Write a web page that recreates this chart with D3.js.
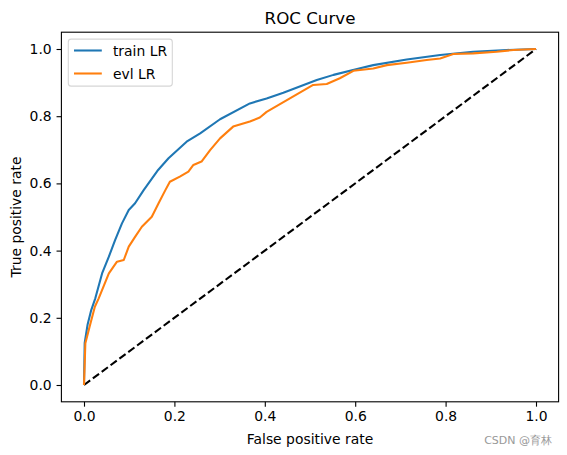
<!DOCTYPE html>
<html><head><meta charset="utf-8">
<script src="https://cdn.jsdelivr.net/npm/d3@7"></script>
<style>body{margin:0;background:#fff}svg{display:block}text{font-family:"DejaVu Sans",sans-serif}</style>
</head><body><svg id="c" width="567" height="455"></svg>
<script>
const fprTrain=[0,0.0015,0.008,0.016,0.025,0.040,0.055,0.069,0.084,0.099,0.113,0.132,0.164,0.187,0.227,0.257,0.301,0.367,0.404,0.441,0.515,0.552,0.611,0.640,0.714,0.788,0.861,0.935,1];
const tprTrain=[0,0.125,0.18,0.223,0.258,0.332,0.382,0.432,0.481,0.521,0.541,0.580,0.640,0.675,0.724,0.749,0.791,0.838,0.853,0.870,0.908,0.923,0.943,0.952,0.969,0.982,0.992,0.997,1];
const fprEvl=[0,0.003,0.0125,0.024,0.0325,0.055,0.073,0.088,0.099,0.113,0.128,0.150,0.165,0.180,0.190,0.212,0.231,0.242,0.260,0.279,0.301,0.330,0.367,0.389,0.404,0.507,0.537,0.566,0.596,0.640,0.670,0.714,0.758,0.788,0.817,0.861,0.913,0.950,1];
const tprEvl=[0,0.124,0.174,0.233,0.258,0.332,0.367,0.372,0.412,0.441,0.471,0.501,0.541,0.580,0.605,0.620,0.635,0.655,0.665,0.699,0.734,0.769,0.784,0.796,0.813,0.893,0.896,0.913,0.935,0.942,0.952,0.959,0.967,0.972,0.985,0.987,0.992,0.997,1];
const diagX=[0,1], diagY=[0,1];
const ticks=[0,0.2,0.4,0.6,0.8,1.0];
const seriesNames=["train LR","evl LR"];
const colors=["#1f77b4","#ff7f0e"];
const title="ROC Curve", xLabel="False positive rate", yLabel="True positive rate", watermark="CSDN @育林";

const L=61.4,R=558.6,T=32.2,B=401.8;
const svg=d3.select("#c");
const x=d3.scaleLinear().domain([-0.05,1.05]).range([L,R]);
const y=d3.scaleLinear().domain([-0.05,1.05]).range([B,T]);
const line=d3.line().x(d=>x(d[0])).y(d=>y(d[1]));
const g=svg.append("g");
g.append("path").datum(diagX.map((v,i)=>[v,diagY[i]])).attr("d",line).attr("fill","none").attr("stroke","#000").attr("stroke-width",2.08).attr("stroke-dasharray","7.7,3.33");
[[fprTrain,tprTrain],[fprEvl,tprEvl]].forEach((s,k)=>{
  g.append("path").datum(s[0].map((v,i)=>[v,s[1][i]])).attr("d",line).attr("fill","none").attr("stroke",colors[k]).attr("stroke-width",2.08).attr("stroke-linejoin","round");
});
const fmt=d3.format(".1f");
const xa=svg.append("g").attr("transform",`translate(0,${B})`).call(d3.axisBottom(x).tickValues(ticks).tickFormat(fmt).tickSizeInner(4.86).tickSizeOuter(0).tickPadding(4.86));
const ya=svg.append("g").attr("transform",`translate(${L},0)`).call(d3.axisLeft(y).tickValues(ticks).tickFormat(fmt).tickSizeInner(4.86).tickSizeOuter(0).tickPadding(4.86));
[xa,ya].forEach(a=>{a.select(".domain").remove();a.selectAll("line").attr("stroke","#000").attr("stroke-width",1.1);a.selectAll("text").attr("font-size",13.9).attr("fill","#000").attr("font-family","DejaVu Sans");});
svg.append("rect").attr("x",L).attr("y",T).attr("width",R-L).attr("height",B-T).attr("fill","none").attr("stroke","#000").attr("stroke-width",1.1);
svg.append("text").attr("x",(L+R)/2).attr("y",24).attr("text-anchor","middle").attr("font-size",16.7).text(title);
svg.append("text").attr("x",(L+R)/2).attr("y",444).attr("text-anchor","middle").attr("font-size",13.9).text(xLabel);
svg.append("text").attr("transform",`translate(21,${(T+B)/2}) rotate(-90)`).attr("text-anchor","middle").attr("font-size",13.9).text(yLabel);
svg.append("text").attr("x",552).attr("y",444).attr("text-anchor","end").attr("font-size",11).attr("fill","#999").attr("font-family","'Noto Sans CJK SC',sans-serif").text(watermark);
// legend
const lg=svg.append("g");
lg.append("rect").attr("x",68.3).attr("y",39.1).attr("width",104).attr("height",47).attr("rx",2.8).attr("fill","rgba(255,255,255,0.8)").attr("stroke","#d6d6d6").attr("stroke-width",1.1);
seriesNames.forEach((n,i)=>{
  const cy=50.5+i*23;
  lg.append("line").attr("x1",74).attr("x2",101.8).attr("y1",cy).attr("y2",cy).attr("stroke",colors[i]).attr("stroke-width",2.08);
  lg.append("text").attr("x",112.9).attr("y",cy+5).attr("font-size",13.9).text(n);
});
</script></body></html>
